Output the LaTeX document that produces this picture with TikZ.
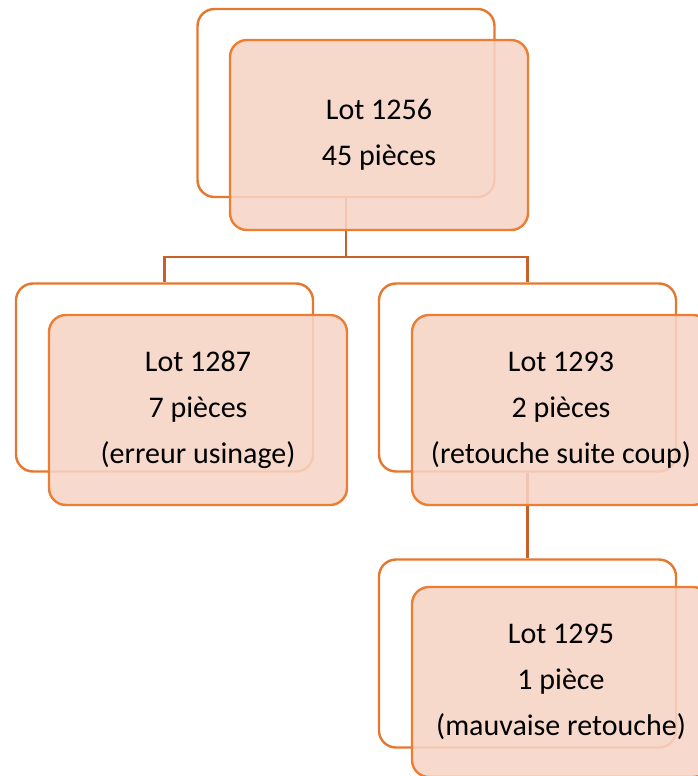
\documentclass[tikz,border=0pt]{standalone}
\usepackage{fontspec}
\setmainfont{Carlito}
\definecolor{edge}{HTML}{ED7D31}
\definecolor{backedge}{HTML}{E5782F}
\definecolor{conn}{HTML}{C8602A}
\definecolor{frontfill}{HTML}{F7D4C6}
\tikzset{
  backbox/.style={draw=backedge, line width=2.4pt, fill=white, rounded corners=17pt,
    minimum width=297pt, minimum height=188pt, inner sep=0pt},
  frontbox/.style={draw=edge, line width=2.4pt, fill=frontfill, fill opacity=0.88,
    text opacity=1, rounded corners=17pt, minimum width=298pt, minimum height=190pt,
    inner sep=0pt, align=center, font=\fontsize{30}{46}\selectfont},
  connline/.style={draw=conn, line width=2.6pt}
}
\begin{document}
\begin{tikzpicture}[x=1pt,y=-1pt]
\useasboundingbox (0,0) rectangle (698,776);
\clip (0,0) rectangle (698,776);
% back boxes
\node[backbox] (tb) at (346,103) {};
\node[backbox] (lb) at (164.5,377.5) {};
\node[backbox] (rb) at (527.5,377.5) {};
\node[backbox] (bb) at (527.5,653.5) {};
% connectors
\coordinate (j) at (346,257);
\draw[connline] (tb.south) -- (j) -| (lb.north);
\draw[connline] (j) -| (rb.north);
\draw[connline] (rb.south) -- (bb.north);
% front boxes
\node[frontbox] (tf) at (379,135) {Lot 1256\\45 pièces};
\node[frontbox] (lf) at (198,410) {Lot 1287\\7 pièces\\(erreur usinage)};
\node[frontbox] (rf) at (561,410) {Lot 1293\\2 pièces\\(retouche suite coup)};
\node[frontbox] (bf) at (561,682) {Lot 1295\\1 pièce\\(mauvaise retouche)};
\end{tikzpicture}
\end{document}
